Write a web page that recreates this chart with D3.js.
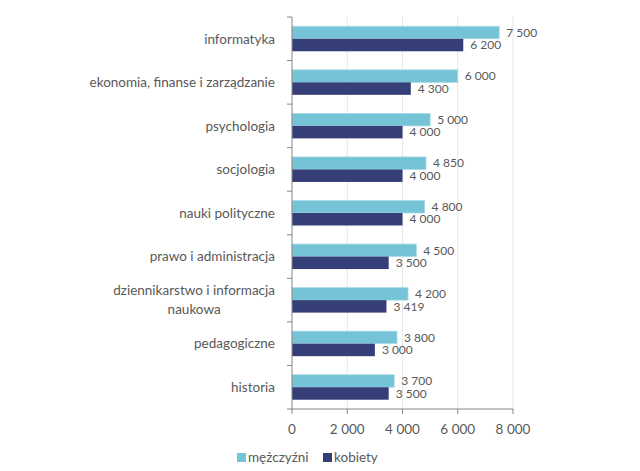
<!DOCTYPE html>
<html><head><meta charset="utf-8">
<script src="https://cdn.jsdelivr.net/npm/d3@7"></script>
<style>body{margin:0;background:#fff}svg{display:block;font-family:Lato,"Open Sans",sans-serif}</style>
</head><body><svg id="c" width="640" height="471"></svg>
<script>
const categories = ["informatyka","ekonomia, finanse i zarządzanie","psychologia","socjologia","nauki polityczne","prawo i administracja","dziennikarstwo i informacja|naukowa","pedagogiczne","historia"];
const men = [7500,6000,5000,4850,4800,4500,4200,3800,3700];
const women = [6200,4300,4000,4000,4000,3500,3419,3000,3500];
const seriesNames = ["mężczyźni","kobiety"];
const xTicks = [0,2000,4000,6000,8000];
const colors = ["#74c3d6","#363e78"];

(function(){
const svg = d3.select("#c");
const pL = 292, pR = 513, pT = 17, pB = 409;
const x = d3.scaleLinear().domain([0,8000]).range([pL,pR]);
const y = d3.scaleBand().domain(categories).range([pT,pB]);
const fmt = v => d3.format(",")(v).replace(/,/g," ");
const textCol = "#595959";

// grid
svg.append("g").selectAll("line").data(xTicks.slice(1)).join("line")
  .attr("x1",d=>x(d)).attr("x2",d=>x(d)).attr("y1",pT).attr("y2",pB)
  .attr("stroke","#e6e6e6").attr("stroke-width",1);

const barH = 12.5;
const series = [men, women];
series.forEach((vals,si)=>{
  const g = svg.append("g");
  g.selectAll("rect").data(categories).join("rect")
    .attr("x",pL)
    .attr("y",(c)=>y(c)+y.bandwidth()/2 - barH + si*barH)
    .attr("width",(c,i)=>x(vals[i])-pL)
    .attr("height",barH)
    .attr("fill",colors[si])
    .attr("stroke",si===0?"#a9dbe7":"none").attr("stroke-width",0.8);
  g.selectAll("text").data(categories).join("text")
    .attr("x",(c,i)=>x(vals[i])+7)
    .attr("y",(c)=>y(c)+y.bandwidth()/2 - barH/2 + si*barH)
    .attr("dy","0.35em")
    .attr("font-size",12).attr("fill",textCol)
    .text((c,i)=>fmt(vals[i]));
});

// category axis
const ax = svg.append("g");
ax.append("line").attr("x1",pL).attr("x2",pL).attr("y1",pT).attr("y2",pB).attr("stroke","#868686");
const bounds = categories.map(c=>y(c)).concat([pB]);
ax.selectAll("line.t").data(bounds).join("line").attr("class","t")
  .attr("x1",pL-5).attr("x2",pL).attr("y1",d=>d).attr("y2",d=>d).attr("stroke","#868686");
categories.forEach(c=>{
  const parts = c.split("|");
  const cy = y(c)+y.bandwidth()/2;
  if(parts.length===1){
    ax.append("text").attr("x",275).attr("y",cy).attr("dy","0.35em").attr("text-anchor","end")
      .attr("font-size",13.5).attr("fill",textCol).text(c);
  } else {
    const t = ax.append("text").attr("font-size",13.5).attr("fill",textCol).attr("text-anchor","middle");
    const tmp = t.append("tspan").text(parts[0]);
    const w = tmp.node().getComputedTextLength();
    tmp.remove();
    const cx = 275 - w/2;
    parts.forEach((p,i)=>{
      t.append("tspan").attr("x",cx).attr("y",cy + (i-(parts.length-1)/2)*19).attr("dy","0.35em").text(p);
    });
  }
});

// x axis
const xa = svg.append("g");
xa.append("line").attr("x1",pL).attr("x2",pR).attr("y1",pB).attr("y2",pB).attr("stroke","#868686");
xa.selectAll("line.t").data(xTicks).join("line").attr("class","t")
  .attr("x1",d=>x(d)).attr("x2",d=>x(d)).attr("y1",pB).attr("y2",pB+5).attr("stroke","#868686");
xa.selectAll("text").data(xTicks).join("text")
  .attr("x",d=>x(d)).attr("y",429).attr("dy","0.35em").attr("text-anchor","middle")
  .attr("font-size",13.5).attr("fill",textCol).text(d=>fmt(d));

// legend
const lg = svg.append("g");
const legX = [237,323];
seriesNames.forEach((n,i)=>{
  lg.append("rect").attr("x",legX[i]).attr("y",453).attr("width",9).attr("height",9).attr("fill",colors[i]);
  lg.append("text").attr("x",legX[i]+11).attr("y",457.5).attr("dy","0.35em")
    .attr("font-size",13.5).attr("fill",textCol).text(n);
});
})();
</script></body></html>
